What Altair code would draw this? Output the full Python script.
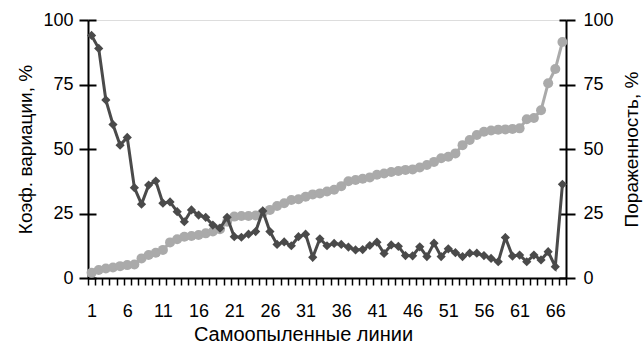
import altair as alt
import pandas as pd

lines = list(range(1, 68))
cv = [94, 89, 69, 59.5, 51.5, 54.5, 35, 28.6, 36, 37.6, 29, 29.5, 25.7, 21.8, 26.4, 24.4,
      23.5, 20.5, 19.3, 23.5, 16, 15.8, 17, 18, 26, 18, 13, 14, 12.5, 16, 17, 8, 15.2,
      12.5, 13.4, 13, 12, 10.9, 11, 12.6, 13.9, 9.5, 12.8, 12.3, 8.7, 8.6, 12.1, 8.3,
      13.5, 8.3, 11.3, 9.8, 8.3, 9.6, 9.6, 8.7, 7.6, 6.3, 15.7, 8.5, 8.9, 6.3, 8.9, 7,
      10.2, 4.4, 36.3]
por = [2, 3.1, 3.7, 4.1, 4.6, 5, 5.2, 7.6, 8.9, 9.8, 10.9, 13.8, 15, 16, 16.3, 16.7,
       17.3, 18, 18.9, 21.8, 23.8, 24, 24, 24.2, 25.3, 26.4, 27.9, 29, 30.2, 30.5, 31.5,
       32.4, 32.8, 33.5, 34.2, 35.6, 37.5, 38, 38.5, 39, 40, 40.5, 41.1, 41.5, 41.9,
       42.1, 42.8, 43.8, 45, 46.4, 47, 48.3, 51.5, 53.5, 55.4, 56.7, 57.2, 57.5, 57.6,
       57.8, 58, 61.5, 62, 65, 75.5, 81, 91.5]
x_labels = [1, 6, 11, 16, 21, 26, 31, 36, 41, 46, 51, 56, 61, 66]
x_ticks = [i + 0.5 for i in range(0, 68)]
y_ticks = [0, 25, 50, 75, 100]

df = pd.DataFrame({"x": lines, "cv": cv, "por": por})

DARK = "#4a4a4a"
LIGHT = "#aaaaaa"
FONT = "Liberation Sans"

xscale = alt.Scale(domain=[0.5, 67.5], nice=False, zero=False)
yscale = alt.Scale(domain=[0, 100], nice=False)

gray = alt.Chart(df).mark_line(
    color=LIGHT, strokeWidth=3,
    point=alt.OverlayMarkDef(shape="circle", size=100, filled=True, color=LIGHT, opacity=1),
).encode(
    x=alt.X("x:Q", scale=xscale, axis=alt.Axis(
        orient="bottom", values=x_labels, ticks=False, domain=False,
        labelFontSize=18, labelPadding=24, labelColor="black",
        title="Самоопыленные линии", titleFontSize=20, titleFontWeight="normal",
        titleColor="black", titlePadding=4, titleX=215, titleAlign="center",
        grid=False, labelOverlap=False)),
    y=alt.Y("por:Q", scale=yscale, axis=alt.Axis(
        orient="right", values=y_ticks, tickSize=9, tickWidth=2, tickColor="black",
        domainWidth=2, domainColor="black", labelFontSize=18, labelPadding=8,
        labelColor="black", title="Пораженность, %", titleFontSize=19,
        titleFontWeight="normal", titleColor="black", titleAngle=270, titlePadding=28,
        grid=False)),
)

dark = alt.Chart(df).mark_line(
    color=DARK, strokeWidth=3,
    point=alt.OverlayMarkDef(shape="diamond", size=85, filled=True, color=DARK, opacity=1),
).encode(
    x=alt.X("x:Q", scale=xscale, axis=alt.Axis(
        orient="bottom", values=x_ticks, labels=False, tickSize=7, tickWidth=1.5,
        tickColor="black", domainWidth=2, domainColor="black", title=None, grid=False)),
    y=alt.Y("cv:Q", scale=yscale, axis=alt.Axis(
        orient="left", values=y_ticks, tickSize=9, tickWidth=2, tickColor="black",
        domainWidth=2, domainColor="black", labelFontSize=18, labelPadding=6,
        labelColor="black", title="Коэф. вариации, %", titleFontSize=19,
        titleFontWeight="normal", titleColor="black", titlePadding=7, grid=False)),
)

inner_left = alt.Chart(df).mark_point(opacity=0).encode(
    x=alt.X("x:Q", scale=xscale, axis=None),
    y=alt.Y("cv:Q", scale=yscale, axis=alt.Axis(
        orient="left", values=y_ticks, offset=-8, tickSize=8, tickWidth=2,
        tickColor="black", labels=False, domain=False, title=None, grid=False)),
)

inner_right = alt.Chart(df).mark_point(opacity=0).encode(
    x=alt.X("x:Q", scale=xscale, axis=None),
    y=alt.Y("por:Q", scale=yscale, axis=alt.Axis(
        orient="right", values=y_ticks, offset=-7, tickSize=7, tickWidth=2,
        tickColor="black", labels=False, domain=False, title=None, grid=False)),
)

chart = alt.layer(gray, dark, inner_left, inner_right).resolve_scale(
    y="independent"
).resolve_axis(
    x="independent", y="independent"
).properties(
    width=478, height=258,
    autosize=alt.AutoSizeParams(type="none"),
    padding={"left": 88, "top": 20, "right": 77, "bottom": 66},
    background="white",
).configure_view(stroke=None).configure(font=FONT)

chart.save("out.html", embed_options={"renderer": "svg", "actions": False})
